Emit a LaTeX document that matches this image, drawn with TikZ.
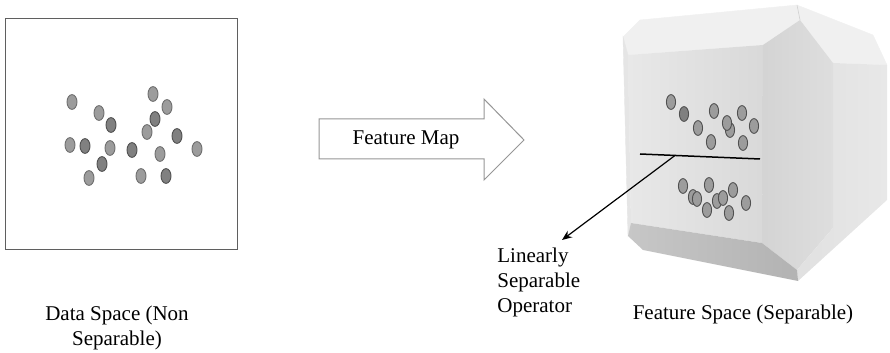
\documentclass[tikz,border=0pt]{standalone}
\usepackage{fontspec}
\setmainfont{Liberation Serif}
\usetikzlibrary{arrows.meta}

\definecolor{dotgray}{RGB}{156,156,156}
\definecolor{dotdark}{RGB}{128,128,128}
\definecolor{dotedge}{RGB}{110,110,110}
\definecolor{dotline}{RGB}{80,80,80}
\definecolor{boxgray}{RGB}{95,95,95}
\definecolor{mapgray}{RGB}{150,150,150}

\begin{document}
\begin{tikzpicture}[
    x=0.5pt,y=-0.5pt,
    every node/.style={font=\fontsize{10.5}{12.5}\selectfont,inner sep=0pt},
    dot/.style={fill=dotgray,draw=dotedge,line width=0.45pt},
    darkdot/.style={dot,fill=dotdark,draw=dotline},
    solid/.style={line width=0.2pt,draw=#1,fill=#1},
    sepline/.style={line width=0.75pt,black},
]
\useasboundingbox (0,0) rectangle (890,353);

% data space
\draw[boxgray,line width=0.5pt] (5,19) rectangle (237,250);
\foreach \x/\y in {72/102, 99/113, 70/145, 110/148, 89/178,
                   153/94, 167/107, 147/132, 160/154, 197/149, 141/176} {
    \draw[dot] (\x,\y) ellipse[x radius=2.5pt,y radius=3.7pt];
}
\foreach \x/\y in {111/125, 85/146, 102/164, 155/119, 177/136, 132/150, 166/176} {
    \draw[darkdot] (\x,\y) ellipse[x radius=2.5pt,y radius=3.7pt];
}
\node[anchor=north,align=center] (dlabel) at (117,306) {Data Space (Non\\Separable)};

% feature map arrow
\draw[mapgray,line width=0.5pt,fill=white]
    (319,119) -- (484,119) -- (484,99) -- (524,140)
    -- (484,180) -- (484,159) -- (319,159) -- cycle;
\node (fmap) at (406,140) {Feature Map};

% solid faces, back to front
\fill[solid=black!6] (623,37) -- (640,20) -- (797,5) -- (873,35) -- (887,65)
    -- (833,63) -- (800,20) -- (763,45) -- (628,55) -- cycle;
\draw[white!82!black,line width=0.3pt] (800,20) -- (797,5);
\fill[solid=black!10] (623,37) -- (628,55) -- (631,223) -- (628,236) -- cycle;
\shade[left color=black!9,right color=black!15] (628,55) -- (763,45) -- (762,243) -- (631,223) -- cycle;
\shade[left color=black!17,right color=black!13] (763,45) -- (800,20) -- (833,63)
    -- (833,228) -- (797,270) -- (762,243) -- cycle;
\shade[left color=black!12,right color=black!9] (833,63) -- (887,65) -- (887,200)
    -- (798,281) -- (797,270) -- (833,228) -- cycle;
\shade[left color=black!22,right color=black!30] (628,236) -- (631,223) -- (762,243)
    -- (797,270) -- (798,281) -- (643,250) -- cycle;

% upper cluster
\foreach \x/\y in {671/102, 698/128, 714/111, 711/142, 730/130, 727/123,
                   742/113, 754/126, 743/143} {
    \draw[dot,draw=dotline] (\x,\y) ellipse[x radius=2.3pt,y radius=3.7pt];
}
\draw[darkdot] (684,114) ellipse[x radius=2.3pt,y radius=3.7pt];

% lower cluster
\foreach \x/\y in {683/186, 693/197, 697/199, 709/185, 707/210,
                   717/201, 723/198, 733/190, 729/213, 746/203} {
    \draw[dot,draw=dotline] (\x,\y) ellipse[x radius=2.3pt,y radius=3.7pt];
}

% separating line and its label
\draw[sepline] (640,154) coordinate (sepL) -- (760,159) coordinate (sepR);
\coordinate (sepfoot) at (675,155.5);
\coordinate (optip) at (562,240);
\node[anchor=north west,align=left] (oplabel) at (497,248) {Linearly\\Separable\\Operator};
\draw[line width=0.6pt,-{Stealth[length=5pt,width=4pt]}] (sepfoot) -- (optip);

\node[anchor=base] (flabel) at (743,320) {Feature Space (Separable)};

\end{tikzpicture}
\end{document}
